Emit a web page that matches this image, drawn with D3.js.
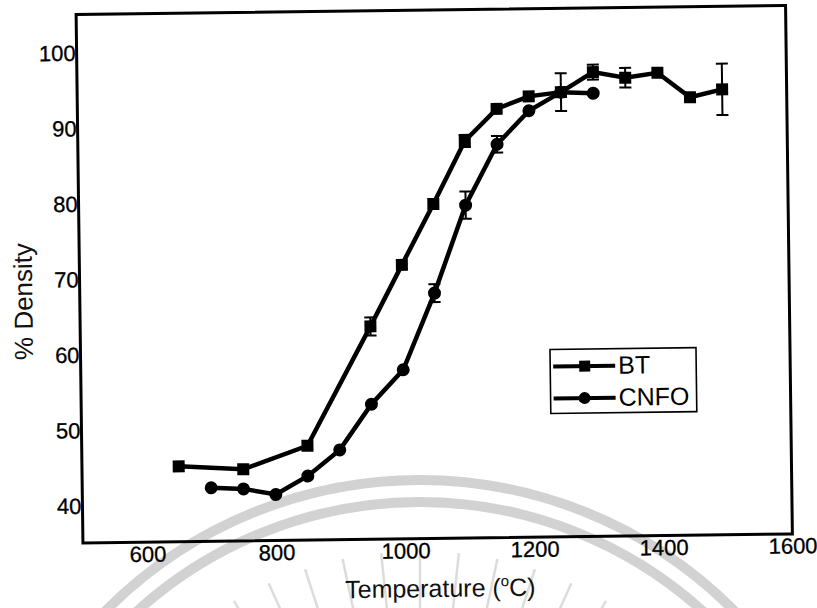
<!DOCTYPE html>
<html>
<head>
<meta charset="utf-8">
<script src="https://cdn.jsdelivr.net/npm/d3@7/dist/d3.min.js"></script>
<style>
  html, body { margin: 0; padding: 0; background: #fff; }
  svg { display: block; font-family: "Liberation Sans", Arial, Helvetica, sans-serif; }
</style>
</head>
<body>
<svg id="chart" width="817" height="608"></svg>
<script>
// ---- data ----
const btTemps    = [650, 750, 850, 950, 1000, 1050, 1100, 1150, 1200, 1250, 1300, 1350, 1400, 1450, 1500];
const btDensity  = [45.0, 44.5, 47.5, 63.2, 71.3, 79.3, 87.6, 91.8, 93.4, 93.9, 96.5, 95.7, 96.3, 93.0, 94.0];
const btError    = [0, 0, 0, 1.2, 0, 0, 0.8, 0, 0, 0, 1.0, 1.3, 0, 0, 3.4];

const cnfoTemps   = [700, 750, 800, 850, 900, 950, 1000, 1050, 1100, 1150, 1200, 1250, 1300];
const cnfoDensity = [42.1, 41.9, 41.1, 43.5, 46.9, 52.9, 57.4, 67.5, 79.1, 87.1, 91.5, 93.9, 93.7];
const cnfoError   = [0, 0, 0, 0, 0, 0, 0, 1.2, 1.8, 1.1, 0, 2.5, 0];

const xTicks = [600, 800, 1000, 1200, 1400, 1600];
const yTicks = [40, 50, 60, 70, 80, 90, 100];
const xDomain = [500, 1600];
const yDomain = [35, 105];
const seriesNames = ["BT", "CNFO"];
const xTitle = "Temperature (";
const yTitle = "% Density";

// ---- layout ----
const mLeft = 79.5, mTop = 10, plotW = 709.5, plotH = 528.5;
const cx = mLeft + plotW / 2, cy = mTop + plotH / 2;
const tilt = -0.74; // scan rotation (degrees)

const svg = d3.select("#chart");
svg.append("rect").attr("width", 817).attr("height", 608).attr("fill", "#fff");

// faint watermark of the scanned page
const wm = svg.append("g").attr("fill", "none").attr("stroke", "#d2d2d2");
const wmC = [420, 923];
[443, 421].forEach(r => wm.append("circle").attr("cx", wmC[0]).attr("cy", wmC[1]).attr("r", r).attr("stroke-width", 10));
d3.range(-150, -29, 6).forEach(a => {
  const t = a * Math.PI / 180;
  wm.append("line")
    .attr("x1", wmC[0] + 300 * Math.cos(t)).attr("y1", wmC[1] + 300 * Math.sin(t))
    .attr("x2", wmC[0] + 372 * Math.cos(t)).attr("y2", wmC[1] + 372 * Math.sin(t))
    .attr("stroke-width", 2.5).attr("stroke", "#dcdcdc");
});

const root = svg.append("g").attr("transform", `rotate(${tilt},${cx},${cy})`);
const g = root.append("g").attr("transform", `translate(${mLeft},${mTop})`);

const x = d3.scaleLinear().domain(xDomain).range([0, plotW]);
const y = d3.scaleLinear().domain(yDomain).range([plotH, 0]);

// axes (labels only, no tick marks)
const xAxis = g.append("g").attr("transform", `translate(0,${plotH})`)
  .call(d3.axisBottom(x).tickValues(xTicks).tickSize(0).tickPadding(4).tickFormat(d3.format("d")));
const yAxis = g.append("g")
  .call(d3.axisLeft(y).tickValues(yTicks).tickSize(0).tickPadding(1).tickFormat(d3.format("d")));
[xAxis, yAxis].forEach(ax => {
  ax.select(".domain").remove();
  ax.selectAll("text").attr("font-size", 22).attr("fill", "#000")
    .attr("stroke", "#000").attr("stroke-width", 0.3)
    .attr("font-family", "'Liberation Sans', Arial, sans-serif");
});
yAxis.selectAll("text").attr("dy", "0.36em");

// frame
g.append("rect").attr("width", plotW).attr("height", plotH)
  .attr("fill", "none").attr("stroke", "#000").attr("stroke-width", 3);

// axis titles
const xt = g.append("text").attr("x", plotW / 2 + 2).attr("y", plotH + 58.5)
  .attr("text-anchor", "middle").attr("font-size", 25).attr("fill", "#111");
xt.append("tspan").text(xTitle);
xt.append("tspan").attr("font-size", 15).attr("dy", -10).text("o");
xt.append("tspan").attr("dy", 10).text("C)");

g.append("text").attr("transform", `translate(${32 - mLeft},${cy - mTop + 22}) rotate(-90)`)
  .attr("text-anchor", "middle").attr("font-size", 26).attr("fill", "#111").text(yTitle);

// series
const bt = btTemps.map((t, i) => ({ t, v: btDensity[i], e: btError[i] }));
const cn = cnfoTemps.map((t, i) => ({ t, v: cnfoDensity[i], e: cnfoError[i] }));
const line = d3.line().x(d => x(d.t)).y(d => y(d.v));

function errorBars(data) {
  const eb = g.append("g").attr("stroke", "#000").attr("stroke-width", 2);
  data.filter(d => d.e > 0).forEach(d => {
    const px = x(d.t), y1 = y(d.v + d.e), y2 = y(d.v - d.e);
    eb.append("line").attr("x1", px).attr("x2", px).attr("y1", y1).attr("y2", y2);
    eb.append("line").attr("x1", px - 6).attr("x2", px + 6).attr("y1", y1).attr("y2", y1);
    eb.append("line").attr("x1", px - 6).attr("x2", px + 6).attr("y1", y2).attr("y2", y2);
  });
}
errorBars(bt);
errorBars(cn);

g.append("path").datum(bt).attr("d", line).attr("fill", "none").attr("stroke", "#000").attr("stroke-width", 4.5);
g.append("path").datum(cn).attr("d", line).attr("fill", "none").attr("stroke", "#000").attr("stroke-width", 4.5);

const sq = 12;
g.append("g").selectAll("rect").data(bt).join("rect")
  .attr("x", d => x(d.t) - sq / 2).attr("y", d => y(d.v) - sq / 2)
  .attr("width", sq).attr("height", sq).attr("fill", "#000");
g.append("g").selectAll("circle").data(cn).join("circle")
  .attr("cx", d => x(d.t)).attr("cy", d => y(d.v)).attr("r", 6.5).attr("fill", "#000");

// legend
const lg = g.append("g").attr("transform", `translate(${549 - mLeft},${351 - mTop})`);
lg.append("rect").attr("width", 146).attr("height", 64).attr("fill", "#fff")
  .attr("stroke", "#000").attr("stroke-width", 1.6);
[17, 49].forEach((ly, i) => {
  lg.append("line").attr("x1", 3).attr("x2", 65).attr("y1", ly).attr("y2", ly)
    .attr("stroke", "#000").attr("stroke-width", 4);
  if (i === 0) lg.append("rect").attr("x", 29).attr("y", ly - 5.5).attr("width", 11).attr("height", 11).attr("fill", "#000");
  else lg.append("circle").attr("cx", 34).attr("cy", ly).attr("r", 6).attr("fill", "#000");
  lg.append("text").attr("x", 68).attr("y", i === 0 ? 25 : 57).attr("font-size", 25)
    .attr("fill", "#000").text(seriesNames[i]);
});
</script>
</body>
</html>
